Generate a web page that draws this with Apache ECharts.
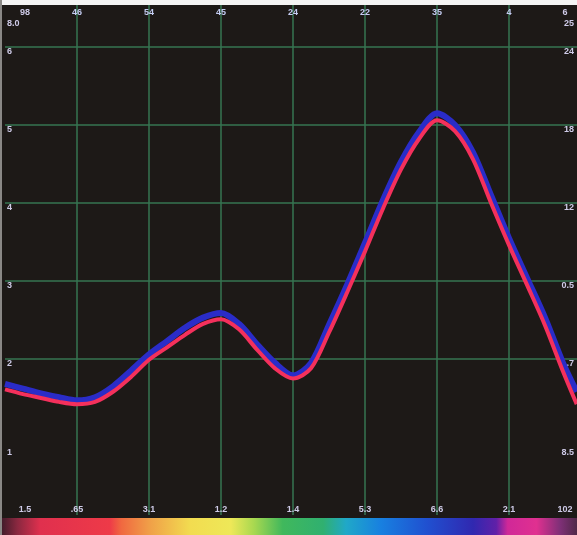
<!DOCTYPE html>
<html>
<head>
<meta charset="utf-8">
<title>curve</title>
<script src="https://cdn.jsdelivr.net/npm/echarts@6/dist/echarts.min.js"></script>
<style>
    html, body { margin: 0; padding: 0; background: #fff; }
    #main { width: 577px; height: 535px; }
</style>
</head>
<body>
<div id="main"></div>
<script>
'use strict';

// position along the bottom axis (one unit per vertical grid line)
var xValues = [0, 0.25, 0.5, 0.75, 1, 1.25, 1.5, 1.75, 2, 2.25, 2.5, 2.75, 3, 3.25, 3.5, 3.75,
    4, 4.25, 4.5, 4.75, 5, 5.25, 5.5, 5.75, 6, 6.25, 6.5, 6.75, 7, 7.25, 7.5, 7.75, 7.94];
// upper (blue) trace
var blueValues = [1.68, 1.62, 1.56, 1.51, 1.47, 1.51, 1.65, 1.85, 2.06, 2.23, 2.40, 2.53, 2.59, 2.45, 2.19, 1.95,
    1.79, 1.95, 2.44, 2.95, 3.49, 4.04, 4.53, 4.91, 5.15, 5.00, 4.65, 4.10, 3.55, 3.04, 2.53, 1.95, 1.58];
// lower (red) trace
var redValues = [1.61, 1.55, 1.50, 1.45, 1.42, 1.45, 1.58, 1.77, 1.99, 2.15, 2.31, 2.45, 2.51, 2.38, 2.12, 1.88,
    1.75, 1.88, 2.34, 2.85, 3.38, 3.93, 4.43, 4.82, 5.06, 4.92, 4.56, 4.00, 3.46, 2.95, 2.43, 1.84, 1.42];

// tick labels, one per tick (last one = axis max)
var topLabels = ['98', '46', '54', '45', '24', '22', '35', '4', '6'];
var bottomLabels = ['1.5', '.65', '3.1', '1.2', '1.4', '5.3', '6.6', '2.1', '102'];
var leftLabels = ['', '1', '2', '3', '4', '5', '6', '8.0'];
var rightLabels = ['', '8.5', '1.7', '0.5', '12', '18', '24', '25'];

(function() {
    var myChart = echarts.init(document.getElementById('main'));

    var labelColor = '#cfcbe8';
    var gridGreen = '#367552';
    var none = 'rgba(0,0,0,0)';

    function pairs(ys) {
        return xValues.map(function (x, i) { return [x, ys[i]]; });
    }

    var labelRich = {
        s: { color: labelColor, fontSize: 9, fontWeight: 'bold', padding: [0, 0, 0, 40] },
        e: { color: labelColor, fontSize: 9, fontWeight: 'bold', padding: [0, 24, 0, 0] },
        t: { color: labelColor, fontSize: 9, fontWeight: 'bold', padding: [14, 0, 0, 0] },
        b: { color: labelColor, fontSize: 9, fontWeight: 'bold', padding: [11, 0, 0, 0] }
    };

    // x labels: first one pushed right, last one pushed left
    function xFormatter(list) {
        return function (value, index) {
            var txt = list[index] || '';
            if (index === 0) return '{s|' + txt + '}';
            if (index === list.length - 1) return '{e|' + txt + '}';
            return txt;
        };
    }
    // y labels: max label and the lowest one sit a bit lower
    function yFormatter(list) {
        return function (value, index) {
            var txt = list[index] || '';
            if (txt === '') return '';
            if (index === list.length - 1) return '{t|' + txt + '}';
            if (index === 1) return '{b|' + txt + '}';
            return txt;
        };
    }

    var baseLabel = {
        inside: true,
        color: labelColor,
        fontSize: 9,
        fontWeight: 'bold',
        fontFamily: 'Liberation Sans',
        rich: labelRich
    };

    var option = {
        backgroundColor: '#1d1917',
        animation: false,
        grid: {
            left: 5,
            right: 0,
            top: 5,
            bottom: 20,
            containLabel: false
        },
        xAxis: [{
            type: 'value',
            position: 'bottom',
            min: 0,
            max: 7.944,
            interval: 1,
            axisLine: { show: false },
            axisTick: { show: false },
            axisLabel: Object.assign({}, baseLabel, { margin: 1, formatter: xFormatter(bottomLabels) }),
            splitLine: {
                show: true,
                lineStyle: {
                    color: [none, gridGreen, gridGreen, gridGreen, gridGreen, gridGreen, gridGreen, gridGreen, none],
                    width: 1.5
                }
            }
        }, {
            type: 'value',
            position: 'top',
            min: 0,
            max: 7.944,
            interval: 1,
            axisLine: { show: false },
            axisTick: { show: false },
            axisLabel: Object.assign({}, baseLabel, { margin: 3, color: '#c4ccf2', formatter: xFormatter(topLabels) }),
            splitLine: { show: false }
        }],
        yAxis: [{
            type: 'value',
            position: 'left',
            min: 0,
            max: 6.538,
            interval: 1,
            axisLine: { show: false },
            axisTick: { show: false },
            axisLabel: Object.assign({}, baseLabel, { margin: 2, verticalAlign: 'top', formatter: yFormatter(leftLabels) }),
            splitLine: {
                show: true,
                lineStyle: {
                    color: [none, none, gridGreen, gridGreen, gridGreen, gridGreen, gridGreen, none],
                    width: 1.5
                }
            }
        }, {
            type: 'value',
            position: 'right',
            min: 0,
            max: 6.538,
            interval: 1,
            axisLine: { show: false },
            axisTick: { show: false },
            axisLabel: Object.assign({}, baseLabel, { margin: 3, verticalAlign: 'top', formatter: yFormatter(rightLabels) }),
            splitLine: { show: false }
        }],
        graphic: [
            // white strip on top and thin grey edge on the left, like the scan
            { type: 'rect', left: 0, top: 0, shape: { width: 577, height: 5 }, style: { fill: '#f4f4f4' }, z: 100 },
            { type: 'rect', left: 0, top: 0, shape: { width: 2, height: 535 }, style: { fill: '#8a8886' }, z: 100 },
            // colour spectrum strip under the plot
            {
                type: 'rect',
                left: 0,
                top: 518,
                shape: { width: 577, height: 17 },
                style: {
                    fill: {
                        type: 'linear', x: 0, y: 0, x2: 1, y2: 0,
                        colorStops: [
                            { offset: 0, color: '#3a1a28' },
                            { offset: 0.03, color: '#8a2840' },
                            { offset: 0.07, color: '#e0304e' },
                            { offset: 0.19, color: '#ee3a48' },
                            { offset: 0.21, color: '#f06840' },
                            { offset: 0.26, color: '#f0a048' },
                            { offset: 0.33, color: '#f2dc50' },
                            { offset: 0.40, color: '#eee858' },
                            { offset: 0.44, color: '#a8d850' },
                            { offset: 0.49, color: '#40b85c' },
                            { offset: 0.56, color: '#30b070' },
                            { offset: 0.60, color: '#20a8c8' },
                            { offset: 0.66, color: '#1880e0' },
                            { offset: 0.74, color: '#2050d0' },
                            { offset: 0.82, color: '#3028b0' },
                            { offset: 0.86, color: '#6020a8' },
                            { offset: 0.88, color: '#d02898' },
                            { offset: 0.93, color: '#e03090' },
                            { offset: 0.97, color: '#803078' },
                            { offset: 1, color: '#502848' }
                        ]
                    }
                }
            }
        ],
        series: [{
            name: 'upper',
            type: 'line',
            smooth: 0.3,
            symbol: 'none',
            xAxisIndex: 0,
            yAxisIndex: 0,
            data: pairs(blueValues),
            lineStyle: { color: '#2a2cc8', width: 6 },
            z: 3
        }, {
            name: 'lower',
            type: 'line',
            smooth: 0.3,
            symbol: 'none',
            xAxisIndex: 0,
            yAxisIndex: 0,
            data: pairs(redValues),
            lineStyle: { color: '#f4305c', width: 4 },
            z: 4
        }]
    };

    myChart.setOption(option);
})();
</script>
</body>
</html>
